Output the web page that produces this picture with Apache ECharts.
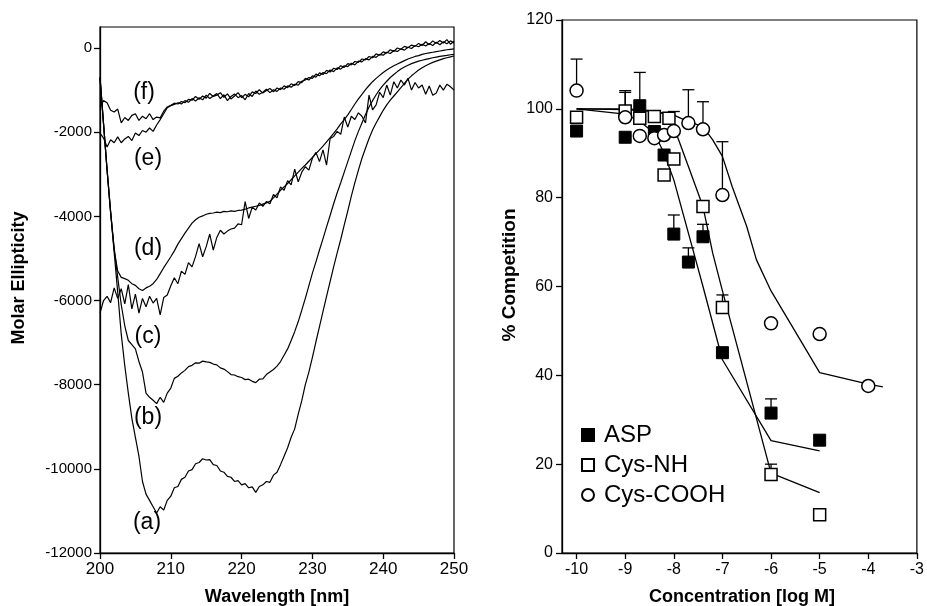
<!DOCTYPE html>
<html>
<head>
<meta charset="utf-8">
<script src="https://cdn.jsdelivr.net/npm/echarts@6/dist/echarts.min.js"></script>
<style>
html,body{margin:0;padding:0;background:#fff;}
#c{width:927px;height:606px;}
</style>
</head>
<body>
<div id="c"></div>
<script>
// ---------- Left panel: CD spectra ----------
const wavelength = [200,200.5,201,201.5,202,202.5,203,203.5,204,204.5,205,205.5,206,206.5,207,207.5,208,208.5,209,209.5,
210,210.5,211,211.5,212,212.5,213,213.5,214,214.5,215,215.5,216,216.5,217,217.5,218,218.5,219,219.5,
220,220.5,221,221.5,222,222.5,223,223.5,224,224.5,225,225.5,226,226.5,227,227.5,228,228.5,229,229.5,
230,230.5,231,231.5,232,232.5,233,233.5,234,234.5,235,235.5,236,236.5,237,237.5,238,238.5,239,239.5,
240,240.5,241,241.5,242,242.5,243,243.5,244,244.5,245,245.5,246,246.5,247,247.5,248,248.5,249,249.5,250];

const curveA = [-700,-1800,-2900,-3900,-4850,-5800,-6800,-7550,-8200,-8800,-9250,-9700,-10300,-10600,-10750,-10900,-11050,-10900,-10980,-10750,
-10650,-10450,-10420,-10250,-10200,-10050,-10020,-9880,-9850,-9760,-9790,-9780,-9900,-9920,-10050,-10080,-10180,-10200,-10300,-10280,
-10380,-10350,-10450,-10430,-10560,-10420,-10380,-10300,-10320,-10150,-10080,-9900,-9700,-9500,-9250,-9050,-8700,-8380,-8000,-7700,
-7350,-6980,-6620,-6260,-5900,-5550,-5200,-4870,-4550,-4200,-3870,-3520,-3200,-2900,-2620,-2380,-2150,-1950,-1780,-1630,
-1480,-1350,-1240,-1140,-1040,-940,-840,-740,-660,-590,-520,-470,-420,-380,-340,-310,-280,-250,-230,-210,-190];

const curveB = [-700,-1800,-2900,-3900,-4750,-5450,-6100,-6600,-6950,-7050,-7150,-7450,-7700,-8200,-8300,-8370,-8450,-8300,-8420,-8200,
-8080,-7850,-7800,-7720,-7660,-7570,-7540,-7480,-7490,-7440,-7460,-7470,-7510,-7530,-7600,-7630,-7690,-7760,-7770,-7810,
-7830,-7880,-7870,-7920,-7950,-7870,-7860,-7760,-7700,-7640,-7560,-7450,-7300,-7150,-6950,-6740,-6500,-6230,-5950,-5650,
-5350,-5080,-4800,-4530,-4250,-3980,-3700,-3440,-3200,-2950,-2700,-2450,-2200,-1980,-1780,-1580,-1400,-1250,-1110,-990,
-880,-790,-700,-630,-560,-500,-450,-410,-370,-340,-310,-290,-270,-250,-230,-215,-200,-185,-175,-160,-150];

const curveC = [-6300,-6000,-5900,-6050,-5700,-5950,-5720,-6080,-5620,-6200,-5850,-6300,-5950,-6150,-5900,-6060,-5950,-6340,-5930,-5870,
-5650,-5460,-5600,-5300,-5380,-5100,-5200,-4950,-4650,-4960,-4720,-4420,-4800,-4500,-4330,-4420,-4350,-4300,-4280,-4180,
-4200,-3650,-4050,-3780,-3850,-3680,-3760,-3650,-3700,-3480,-3560,-3300,-3380,-3150,-3250,-2880,-3180,-2950,-2820,-2900,
-2620,-2480,-2700,-2420,-2780,-2150,-2100,-1980,-2050,-1640,-1880,-1620,-1700,-1540,-1620,-1780,-1120,-1470,-1350,-1050,
-1180,-880,-1120,-800,-950,-760,-880,-720,-1000,-820,-950,-880,-1100,-900,-1120,-1070,-880,-1000,-860,-920,-1000];

const curveD = [-700,-1800,-2900,-3900,-4800,-5300,-5450,-5480,-5520,-5600,-5640,-5720,-5760,-5700,-5660,-5600,-5500,-5360,-5220,-5090,
-4960,-4820,-4660,-4530,-4400,-4280,-4160,-4080,-4020,-3990,-3950,-3930,-3920,-3900,-3910,-3880,-3890,-3870,-3880,-3860,
-3850,-3830,-3800,-3780,-3760,-3740,-3710,-3680,-3640,-3560,-3470,-3380,-3300,-3220,-3130,-3040,-2950,-2860,-2780,-2690,
-2600,-2510,-2420,-2330,-2230,-2130,-2030,-1920,-1800,-1700,-1590,-1460,-1330,-1210,-1100,-990,-890,-800,-720,-650,
-580,-520,-470,-420,-380,-340,-300,-260,-230,-200,-180,-150,-130,-115,-100,-85,-70,-55,-40,-30,-20];

const curveE = [-2020,-2140,-2350,-2180,-2250,-2110,-2250,-2160,-2100,-2200,-2020,-2080,-1960,-2000,-1900,-1980,-1830,-1700,-1560,-1420,
-1370,-1340,-1300,-1330,-1250,-1290,-1200,-1260,-1180,-1230,-1120,-1200,-1140,-1080,-1200,-1110,-1250,-1150,-1090,-1180,
-1130,-1230,-1080,-1150,-1020,-1100,-1050,-980,-1060,-990,-1030,-950,-980,-900,-930,-860,-880,-790,-760,-700,
-720,-620,-660,-580,-610,-520,-560,-470,-500,-420,-440,-360,-400,-310,-330,-250,-280,-200,-220,-150,
-170,-100,-130,-60,-80,-20,-50,20,-10,60,30,90,50,110,60,140,80,150,100,170,120];

const curveF = [-1400,-1250,-1300,-1480,-1520,-1450,-1780,-1650,-1720,-1600,-1560,-1720,-1620,-1680,-1560,-1700,-1640,-1660,-1500,-1400,
-1360,-1310,-1330,-1270,-1300,-1220,-1240,-1150,-1220,-1140,-1190,-1080,-1150,-1120,-1060,-1170,-1090,-1210,-1140,-1060,
-1180,-1100,-1160,-1040,-1080,-990,-1070,-1010,-960,-1040,-950,-990,-900,-940,-850,-890,-800,-820,-720,-760,
-660,-690,-590,-630,-530,-570,-480,-510,-420,-460,-370,-400,-320,-340,-260,-280,-200,-230,-140,-170,
-90,-120,-40,-80,0,-30,40,10,70,40,110,60,150,80,170,110,180,120,200,90,160];

const curveLabels = ['(a)','(b)','(c)','(d)','(e)','(f)'];
const leftYTicks = [-12000,-10000,-8000,-6000,-4000,-2000,0];
const leftXTicks = [200,210,220,230,240,250];

// ---------- Right panel: competition ----------
const aspX = [-10,-9,-8.7,-8.4,-8.2,-8,-7.7,-7.4,-7,-6,-5];
const aspY = [95.0,93.6,100.7,94.9,89.6,71.8,65.5,71.2,45.1,31.5,25.4];
const nhX  = [-10,-9,-8.7,-8.4,-8.1,-8.2,-8,-7.4,-7,-6,-5];
const nhY  = [98.1,99.5,97.9,98.3,97.9,85.1,88.7,78.0,55.3,17.7,8.6];
const cooX = [-10,-9,-8.7,-8.4,-8.2,-8,-7.7,-7.4,-7,-6,-5,-4];
const cooY = [104.1,98.1,93.9,93.4,94.1,95.0,96.8,95.4,80.6,51.7,49.3,37.6];

// error bars: [x, value, upper end]
const aspErr = [[-8.7,100.7,108.2],[-8,71.8,76.1],[-7.7,65.5,68.7],[-7.4,71.2,74.0],[-6,31.5,34.7]];
const nhErr  = [[-9,99.5,104.1],[-7,55.3,58.1],[-6,17.7,20.0]];
const cooErr = [[-10,104.1,111.2],[-9,98.1,103.7],[-8,95.0,99.4],[-7.7,96.8,104.3],[-7.4,95.4,101.6],[-7,80.6,92.6]];

// fitted curves
const aspFitX = [-10,-9,-8.7,-8.4,-8.2,-8,-7.7,-7.4,-7,-6,-5];
const aspFitY = [100,98.8,97.2,94.5,90,84,72,60,43.5,25.3,23];
const nhFitX  = [-10,-9,-8.7,-8.4,-8.1,-7.9,-7.7,-7.4,-7.2,-7,-6,-5];
const nhFitY  = [100,100,99.8,99.5,98.6,93,87,78,67.5,59,18,13.6];
const cooFitX = [-10,-9,-8.7,-8.4,-8,-7.7,-7.4,-7.2,-7,-6.8,-6.5,-6.3,-6,-5.4,-5,-4,-3.7];
const cooFitY = [100,99.8,99.6,99.4,98.6,97.1,96,93,89.3,82.5,73.5,66,59,48,40.6,38,37.4];

const rightXTicks = [-10,-9,-8,-7,-6,-5,-4,-3];
const seriesNames = ['ASP','Cys-NH','Cys-COOH'];

// ---------- build ----------
const FONT = "'Liberation Sans', Arial, Helvetica, sans-serif";
const zip = (xs, ys) => xs.map((x, i) => [x, ys[i]]);
const spectrum = (vals) => wavelength.map((w, i) => [w, vals[i]]);

function specLine(vals) {
  return {
    type: 'line', xAxisIndex: 0, yAxisIndex: 0, data: spectrum(vals),
    showSymbol: false, symbol: 'none', smooth: false, silent: true,
    lineStyle: { color: '#000', width: 1.2 }, z: 3
  };
}
function fitLine(xs, ys) {
  return {
    type: 'line', xAxisIndex: 1, yAxisIndex: 1, data: zip(xs, ys),
    showSymbol: false, symbol: 'none', smooth: false, silent: true,
    lineStyle: { color: '#000', width: 1.3 }, z: 2
  };
}
function errSeries(arr) {
  return {
    type: 'custom', xAxisIndex: 1, yAxisIndex: 1, data: arr, silent: true, z: 3,
    encode: { x: 0, y: [1, 2] },
    renderItem: function (params, api) {
      const p0 = api.coord([api.value(0), api.value(1)]);
      const p1 = api.coord([api.value(0), api.value(2)]);
      return { type: 'group', children: [
        { type: 'line', shape: { x1: p0[0], y1: p0[1], x2: p1[0], y2: p1[1] }, style: { stroke: '#000', lineWidth: 1.3 } },
        { type: 'line', shape: { x1: p1[0] - 6, y1: p1[1], x2: p1[0] + 6, y2: p1[1] }, style: { stroke: '#000', lineWidth: 1.3 } }
      ]};
    }
  };
}

const labelPos = [[147,523],[148,418],[148,337],[148,249],[148,159],[144,93]];

const chart = echarts.init(document.getElementById('c'), null, { renderer: 'canvas' });
chart.setOption({
  animation: false,
  backgroundColor: '#fff',
  grid: [
    { left: 100, top: 27, width: 354, height: 526, show: true, borderColor: '#000', borderWidth: 1.2, containLabel: false },
    { left: 562, top: 20, width: 360, height: 533, show: true, borderColor: '#000', borderWidth: 1.2, containLabel: false }
  ],
  xAxis: [
    { type: 'value', gridIndex: 0, min: 200, max: 250, interval: 10,
      axisLine: { onZero: false, lineStyle: { color: '#000', width: 1.3 } },
      axisTick: { inside: false, length: 6, lineStyle: { color: '#000', width: 1.3 }, customValues: leftXTicks },
      axisLabel: { color: '#000', fontSize: 17, fontFamily: FONT, margin: 8, customValues: leftXTicks, formatter: v => String(v) },
      splitLine: { show: false } },
    { type: 'value', gridIndex: 1, min: -10.3, max: -3,
      axisLine: { onZero: false, lineStyle: { color: '#000', width: 1.3 } },
      axisTick: { inside: false, length: 6, lineStyle: { color: '#000', width: 1.3 }, customValues: rightXTicks },
      axisLabel: { color: '#000', fontSize: 16, fontFamily: FONT, margin: 9, customValues: rightXTicks, formatter: v => String(v) },
      splitLine: { show: false } }
  ],
  yAxis: [
    { type: 'value', gridIndex: 0, min: -12000, max: 500,
      axisLine: { show: true, onZero: false, lineStyle: { color: '#000', width: 1.3 } },
      axisTick: { show: true, inside: false, length: 6, lineStyle: { color: '#000', width: 1.3 }, customValues: leftYTicks },
      axisLabel: { color: '#000', fontSize: 15, fontFamily: FONT, margin: 8, customValues: leftYTicks, formatter: v => String(v) },
      splitLine: { show: false } },
    { type: 'value', gridIndex: 1, min: 0, max: 120, interval: 20,
      axisLine: { show: true, onZero: false, lineStyle: { color: '#000', width: 1.3 } },
      axisTick: { show: true, inside: false, length: 6, lineStyle: { color: '#000', width: 1.3 } },
      axisLabel: { color: '#000', fontSize: 16, fontFamily: FONT, margin: 9, formatter: v => String(v) },
      splitLine: { show: false } }
  ],
  legend: {
    orient: 'vertical', left: 576, top: 418, itemWidth: 12, itemHeight: 12, itemGap: 6,
    selectedMode: false,
    textStyle: { fontSize: 24, fontFamily: FONT, color: '#000', padding: [0, 0, 0, 5] },
    data: [ { name: seriesNames[0], icon: 'rect' }, { name: seriesNames[1], icon: 'rect' }, { name: seriesNames[2], icon: 'circle' } ]
  },
  graphic: [
    ...curveLabels.map((t, i) => ({ type: 'text', x: labelPos[i][0], y: labelPos[i][1],
      style: { text: t, fontSize: 23, fontFamily: FONT, fill: '#000', align: 'center', verticalAlign: 'middle' }, z: 10 })),
    { type: 'text', x: 19, y: 278, rotation: Math.PI / 2,
      style: { text: 'Molar Ellipticity', fontSize: 18, fontWeight: 'bold', fontFamily: FONT, fill: '#000', align: 'center', verticalAlign: 'middle' } },
    { type: 'text', x: 277, y: 597,
      style: { text: 'Wavelength [nm]', fontSize: 18, fontWeight: 'bold', fontFamily: FONT, fill: '#000', align: 'center', verticalAlign: 'middle' } },
    { type: 'text', x: 510, y: 275, rotation: Math.PI / 2,
      style: { text: '% Competition', fontSize: 19, fontWeight: 'bold', fontFamily: FONT, fill: '#000', align: 'center', verticalAlign: 'middle' } },
    { type: 'text', x: 742, y: 597,
      style: { text: 'Concentration [log M]', fontSize: 18, fontWeight: 'bold', fontFamily: FONT, fill: '#000', align: 'center', verticalAlign: 'middle' } }
  ],
  series: [
    specLine(curveA), specLine(curveB), specLine(curveC), specLine(curveD), specLine(curveE), specLine(curveF),
    fitLine(aspFitX, aspFitY), fitLine(nhFitX, nhFitY), fitLine(cooFitX, cooFitY),
    errSeries(aspErr), errSeries(nhErr), errSeries(cooErr),
    { name: seriesNames[0], type: 'scatter', xAxisIndex: 1, yAxisIndex: 1, data: zip(aspX, aspY),
      symbol: 'rect', symbolSize: 12, itemStyle: { color: '#000', borderColor: '#000', borderWidth: 1, opacity: 1 }, z: 5 },
    { name: seriesNames[1], type: 'scatter', xAxisIndex: 1, yAxisIndex: 1, data: zip(nhX, nhY),
      symbol: 'rect', symbolSize: 12, itemStyle: { color: '#fff', borderColor: '#000', borderWidth: 1.5, opacity: 1 }, z: 5 },
    { name: seriesNames[2], type: 'scatter', xAxisIndex: 1, yAxisIndex: 1, data: zip(cooX, cooY),
      symbol: 'circle', symbolSize: 13, itemStyle: { color: '#fff', borderColor: '#000', borderWidth: 1.5, opacity: 1 }, z: 5 }
  ]
});
</script>
</body>
</html>
